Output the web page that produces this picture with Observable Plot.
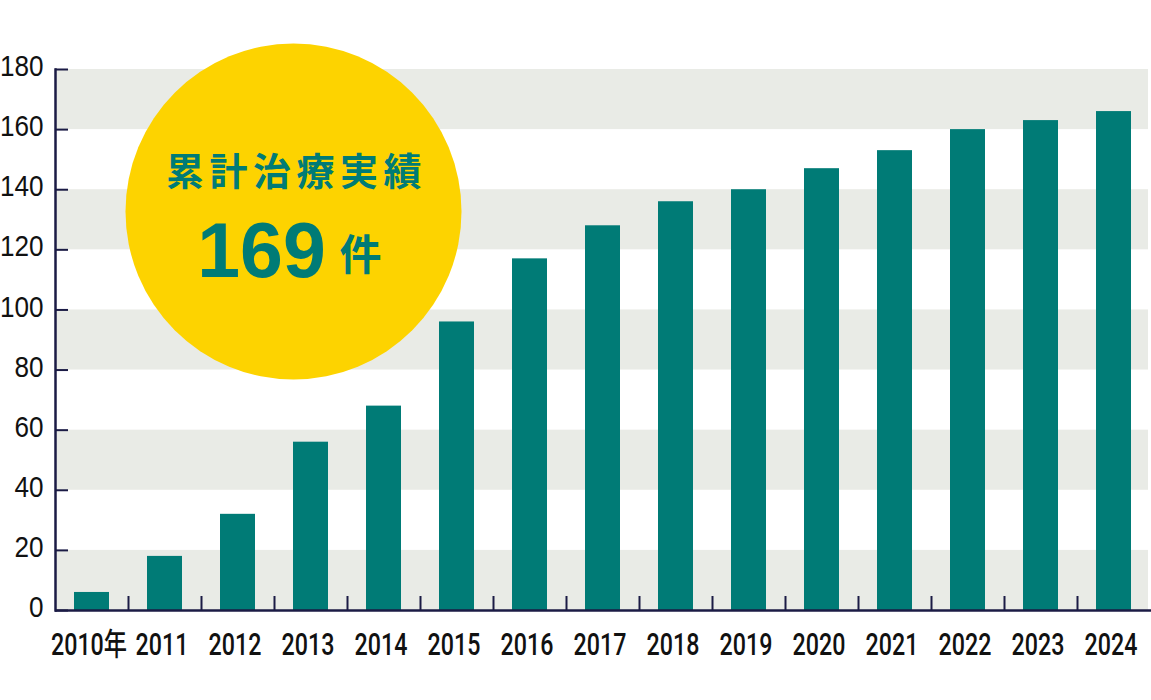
<!DOCTYPE html>
<html>
<head>
<meta charset="utf-8">
<script src="https://cdn.jsdelivr.net/npm/d3@7"></script>
<script src="https://cdn.jsdelivr.net/npm/@observablehq/plot@0.6"></script>
<style>
  html, body { margin: 0; padding: 0; background: #fff; }
  #chart svg { display: block; }
</style>
</head>
<body>
<div id="chart"></div>
<script>
const years = ["2010年","2011","2012","2013","2014","2015","2016","2017","2018","2019","2020","2021","2022","2023","2024"];
const totals = [6, 18, 32, 56, 68, 96, 117, 128, 136, 140, 147, 153, 160, 163, 166];
const yTicks = [0, 20, 40, 60, 80, 100, 120, 140, 160, 180];
const calloutTitle = ["累計治療実績"];
const calloutNumber = ["169"];
const calloutUnit = ["件"];

const data = years.map((y, i) => ({year: y, total: totals[i]}));
const grayBands = yTicks.filter((t, i) => i % 2 === 0 && i < yTicks.length - 1).map(t => ({y1: t, y2: t + 20}));

const teal = "#007b76";
const navy = "#1b1b45";
const cjk = "'Noto Sans CJK JP', 'Noto Sans CJK SC', sans-serif";

const chart = Plot.plot({
  width: 1151,
  height: 700,
  marginLeft: 55,
  marginRight: 0,
  marginTop: 69,
  marginBottom: 90,
  style: {background: "#fff", overflow: "visible"},
  x: {domain: years, paddingInner: 0.52, paddingOuter: 0.26, label: null},
  y: {domain: [0, 180], label: null},
  marks: [
    Plot.rectY(grayBands, {y1: "y1", y2: "y2", fill: "#e9ebe6", insetRight: 3}),
    Plot.barY(data, {x: "year", y: "total", fill: teal}),
    Plot.dot([0], {frameAnchor: "top-left", dx: 238, dy: 142, r: 168, fill: "#fdd300", stroke: "none"}),
    Plot.text(calloutTitle, {text: d => d, frameAnchor: "top-left", dx: 241, dy: 103, fill: teal, fontSize: 38, fontWeight: "bold", fontFamily: cjk, textAnchor: "middle", lineAnchor: "middle"}),
    Plot.text(calloutNumber, {text: d => d, frameAnchor: "top-left", dx: 206, dy: 183, fill: teal, fontSize: 77, fontWeight: "bold", fontFamily: "'Liberation Sans', Arial, sans-serif", textAnchor: "middle", lineAnchor: "middle"}),
    Plot.text(calloutUnit, {text: d => d, frameAnchor: "top-left", dx: 305, dy: 187, fill: teal, fontSize: 42, fontWeight: "bold", fontFamily: cjk, textAnchor: "middle", lineAnchor: "middle"}),
    Plot.tickY(yTicks, {y: d => d, stroke: navy, strokeWidth: 2, insetRight: 1096 - 13}),
    Plot.tickX(years.slice(0, -1), {x: d => d, dx: 36.5, stroke: navy, strokeWidth: 2, insetTop: 541 - 14}),
    Plot.frame({anchor: "left", stroke: navy, strokeWidth: 2.5}),
    Plot.ruleY([0], {stroke: navy, strokeWidth: 2.5}),
    Plot.axisY({ticks: yTicks, tickSize: 0, tickPadding: 12, dy: -3, fontSize: 30, fontFamily: "'Liberation Sans', Arial, sans-serif", fill: "#111", label: null}),
    Plot.axisX({tickSize: 0, tickPadding: 22, dx: -3, fontSize: 31, fontWeight: 500, fontFamily: "Roboto, 'Noto Sans CJK JP', sans-serif", fill: "#111", label: null})
  ]
});

const svg = d3.select(chart);
svg.selectAll("text").filter(function() { return this.textContent === calloutTitle[0]; })
  .style("letter-spacing", "5.5px");
// condense axis labels horizontally (no condensed fonts installed)
function condense(sel, k) {
  sel.each(function() {
    const t = this.getAttribute("transform") || "";
    this.setAttribute("transform", t + ` scale(${k},1)`);
  });
}
condense(svg.selectAll("g[aria-label='y-axis tick label'] text"), 0.87);
condense(svg.selectAll("g[aria-label='x-axis tick label'] text"), 0.75);

document.getElementById("chart").appendChild(chart);
</script>
</body>
</html>
